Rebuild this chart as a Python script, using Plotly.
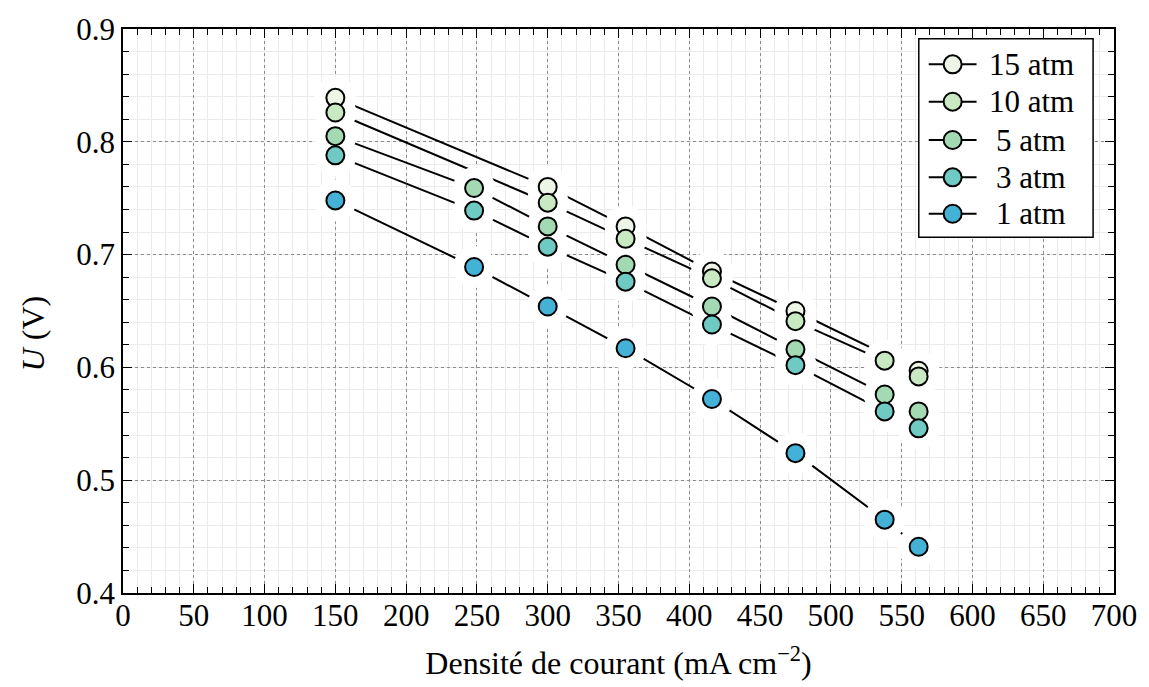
import plotly.graph_objects as go

# ---- data ----
series_names = ["15 atm", "10 atm", "5 atm", "3 atm", "1 atm"]

x_15 = [150, 300, 355, 416, 475, 562]
u_15 = [0.839, 0.760, 0.725, 0.685, 0.650, 0.597]

x_10 = [150, 300, 355, 416, 475, 538, 562]
u_10 = [0.826, 0.746, 0.714, 0.679, 0.641, 0.606, 0.592]

x_5 = [150, 248, 300, 355, 416, 475, 538, 562]
u_5 = [0.805, 0.759, 0.725, 0.691, 0.654, 0.616, 0.576, 0.561]

x_3 = [150, 248, 300, 355, 416, 475, 538, 562]
u_3 = [0.788, 0.739, 0.707, 0.676, 0.638, 0.602, 0.561, 0.546]

x_1 = [150, 248, 300, 355, 416, 475, 538, 562]
u_1 = [0.748, 0.689, 0.654, 0.617, 0.572, 0.524, 0.465, 0.441]

x_ticks = [0, 50, 100, 150, 200, 250, 300, 350, 400, 450, 500, 550, 600, 650, 700]
y_ticks = [0.4, 0.5, 0.6, 0.7, 0.8, 0.9]

colors = ["#eef5e6", "#c8e9c2", "#a3dab3", "#6fcac3", "#44b1d6"]

xs = [x_15, x_10, x_5, x_3, x_1]
us = [u_15, u_10, u_5, u_3, u_1]

FONT = "Liberation Serif"
W, H = 1149, 687
ML, MR, MT, MB = 123, 31, 20, 93
PW, PH = W - ML - MR, H - MT - MB


def px_x(p):  # pixel -> paper x
    return (p - ML) / PW


def px_y(p):  # pixel -> paper y
    return (H - MB - p) / PH


fig = go.Figure()

# lines
for x, u in zip(xs, us):
    fig.add_trace(go.Scatter(x=x, y=u, mode="lines", line=dict(color="black", width=2),
                             showlegend=False, hoverinfo="skip"))
# white halos around markers (gaps in lines and grid)
for x, u in zip(xs, us):
    fig.add_trace(go.Scatter(x=x, y=u, mode="markers",
                             marker=dict(size=42, color="white", line=dict(width=0)),
                             showlegend=False, hoverinfo="skip"))
# markers
for x, u, c, n in zip(xs, us, colors, series_names):
    fig.add_trace(go.Scatter(x=x, y=u, mode="markers", name=n,
                             marker=dict(size=18, color=c, line=dict(color="black", width=2)),
                             showlegend=False))

axis_common = dict(
    showline=True, linecolor="black", linewidth=1.5, mirror="ticks",
    ticks="inside", ticklen=9, tickwidth=1, tickcolor="black",
    showgrid=True, gridcolor="#8c8c8c", gridwidth=1, griddash="dot",
    zeroline=False,
    tickfont=dict(family=FONT, size=31, color="black"),
)

minor_common = dict(ticks="inside", ticklen=6, tickcolor="black",
                    showgrid=True, gridcolor="#ebebeb", gridwidth=1, griddash="solid")

fig.update_xaxes(
    range=[0, 700], tickvals=x_ticks, ticktext=[str(v) for v in x_ticks],
    minor=dict(dtick=10, **minor_common),
    ticklabelstandoff=-6,
    title=dict(text="Densité de courant (mA cm<sup>−2</sup>)",
               font=dict(family=FONT, size=32, color="black"), standoff=20),
    **axis_common,
)
fig.update_yaxes(
    range=[0.4, 0.9], tickvals=y_ticks, ticktext=[f"{v:.1f}" for v in y_ticks],
    minor=dict(dtick=0.02, **minor_common),
    **axis_common,
)

fig.add_annotation(text="<i>U</i> (V)", textangle=-90, showarrow=False,
                   xref="paper", yref="paper", x=-0.091, y=0.46,
                   xanchor="center", yanchor="middle",
                   font=dict(family=FONT, size=32, color="black"))

# ---- hand-drawn legend box ----
shapes = [dict(type="rect", xref="paper", yref="paper",
               x0=px_x(922), x1=px_x(1097), y0=px_y(232), y1=px_y(30),
               fillcolor="white", line=dict(color="black", width=1.5), layer="above")]
row_y = [56, 94, 133, 171, 208]
for name, c, ry in zip(series_names, colors, row_y):
    shapes.append(dict(type="line", xref="paper", yref="paper",
                       x0=px_x(932), x1=px_x(980), y0=px_y(ry), y1=px_y(ry),
                       line=dict(color="black", width=2), layer="above"))
    shapes.append(dict(type="circle", xref="paper", yref="paper",
                       xsizemode="pixel", ysizemode="pixel",
                       xanchor=px_x(956), yanchor=px_y(ry),
                       x0=-9, x1=9, y0=-9, y1=9,
                       fillcolor=c, line=dict(color="black", width=2), layer="above"))
    fig.add_annotation(text=name, showarrow=False, xref="paper", yref="paper",
                       x=px_x(1035), y=px_y(ry), xanchor="center", yanchor="middle",
                       font=dict(family=FONT, size=31, color="black"))

fig.update_layout(
    width=W, height=H,
    margin=dict(l=ML, r=MR, t=MT, b=MB),
    paper_bgcolor="white", plot_bgcolor="white",
    shapes=shapes,
    showlegend=False,
)

fig.write_html("out.html")
